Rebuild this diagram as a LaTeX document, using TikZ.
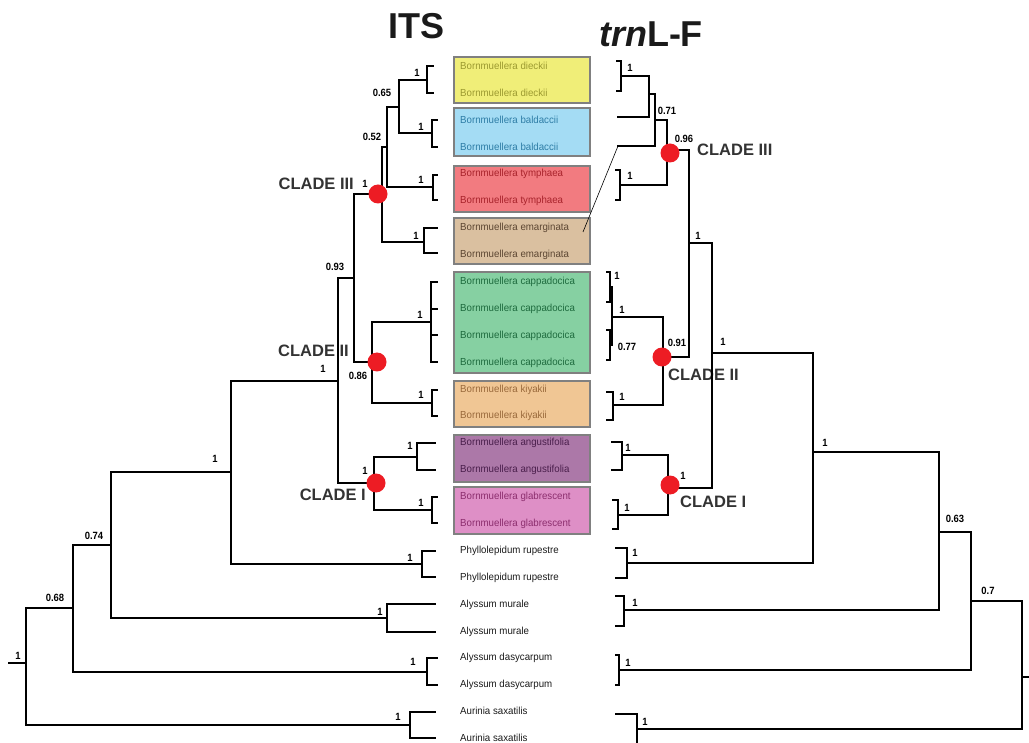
\documentclass[tikz,border=0pt]{standalone}
\usepackage{fontspec}
\setmainfont{Liberation Sans}
\newfontfamily\taxfont[FakeStretch=0.95]{Liberation Sans}
\newfontfamily\supfont[FakeStretch=0.9]{Liberation Sans}

\definecolor{dotred}{HTML}{ED1C24}
\definecolor{cladegray}{HTML}{333333}
\definecolor{boxgray}{HTML}{808080}
\definecolor{dieckfill}{HTML}{F0EE78}
\definecolor{dieckink}{HTML}{9C9A30}
\definecolor{baldfill}{HTML}{A4DCF4}
\definecolor{baldink}{HTML}{2E7DA6}
\definecolor{tymphfill}{HTML}{F27B80}
\definecolor{tymphink}{HTML}{A8232B}
\definecolor{emargfill}{HTML}{DAC0A0}
\definecolor{emargink}{HTML}{5C4632}
\definecolor{cappafill}{HTML}{86D0A2}
\definecolor{cappaink}{HTML}{1E6B3E}
\definecolor{kiyafill}{HTML}{F0C694}
\definecolor{kiyaink}{HTML}{9A6A3C}
\definecolor{angufill}{HTML}{AC78A8}
\definecolor{anguink}{HTML}{4A1F4C}
\definecolor{glabfill}{HTML}{DE8FC6}
\definecolor{glabink}{HTML}{8C2E6E}
\definecolor{outink}{HTML}{1A1A1A}

\tikzset{
  branch/.style={line width=1.4pt, line cap=rect},
  support/.style={font=\supfont\bfseries\fontsize{10.5}{11}\selectfont, inner sep=0pt},
  clade/.style={font=\bfseries\fontsize{16.5}{18}\selectfont, text=cladegray, inner sep=0pt},
  taxon/.style={font=\taxfont\fontsize{10.2}{11}\selectfont, anchor=west, inner sep=0pt, text height=7pt, text depth=2pt},
  taxbox/.style={draw=boxgray, line width=1.5pt},
  cladedot/.style={circle, fill=dotred, minimum size=19pt, inner sep=0pt},
}

\begin{document}
\begin{tikzpicture}[x=1pt, y=-1pt]
\useasboundingbox (0,0) rectangle (1029,743);

% titres
\node (its) [anchor=base, font=\bfseries\fontsize{36}{36}\selectfont, text=outink] at (416,39) {ITS};
\node (trnlf) [anchor=base, font=\bfseries\fontsize{36}{36}\selectfont, text=outink] at (651,47) {\textit{trn}L-F};

% boites des especes
\foreach \ytop/\ybot/\fillcol in {57/103/dieckfill, 108/156/baldfill, 166/212/tymphfill, 218/264/emargfill,
    272/373/cappafill, 381/427/kiyafill, 435/482/angufill, 487/534/glabfill}
  \draw[taxbox, fill=\fillcol] (454,\ytop) rectangle (590,\ybot);

% noms des taxons
\foreach \y/\txt/\col [count=\i] in {
    67/Bornmuellera dieckii/dieckink, 93.9/Bornmuellera dieckii/dieckink,
    120.8/Bornmuellera baldaccii/baldink, 147.6/Bornmuellera baldaccii/baldink,
    174.5/Bornmuellera tymphaea/tymphink, 201.4/Bornmuellera tymphaea/tymphink,
    228.3/Bornmuellera emarginata/emargink, 255.2/Bornmuellera emarginata/emargink,
    282/Bornmuellera cappadocica/cappaink, 308.9/Bornmuellera cappadocica/cappaink,
    335.8/Bornmuellera cappadocica/cappaink, 362.7/Bornmuellera cappadocica/cappaink,
    389.6/Bornmuellera kiyakii/kiyaink, 416.4/Bornmuellera kiyakii/kiyaink,
    443.3/Bornmuellera angustifolia/anguink, 470.2/Bornmuellera angustifolia/anguink,
    497.1/Bornmuellera glabrescent/glabink, 524/Bornmuellera glabrescent/glabink,
    550.8/Phyllolepidum rupestre/outink, 577.7/Phyllolepidum rupestre/outink,
    604.6/Alyssum murale/outink, 631.5/Alyssum murale/outink,
    658.4/Alyssum dasycarpum/outink, 685.2/Alyssum dasycarpum/outink,
    712.1/Aurinia saxatilis/outink, 739/Aurinia saxatilis/outink}
  \node[taxon, text=\col] (tax\i) at (460,\y) {\txt};

% etiquettes des clades
\node[clade, anchor=east] (cl3L) at (354,184) {CLADE III};
\node[clade, anchor=east] (cl2L) at (349,351) {CLADE II};
\node[clade, anchor=east] (cl1L) at (366,495) {CLADE I};
\node[clade, anchor=west] (cl3R) at (697,150) {CLADE III};
\node[clade, anchor=west] (cl2R) at (668,375) {CLADE II};
\node[clade, anchor=west] (cl1R) at (680,502) {CLADE I};

% arbre ITS : crochets terminaux
\foreach \x/\ya/\yb/\xe in {427/66/93/433, 432/120/147/437, 433/175/200/437, 424/228/253/437,
    431/282/309/437, 431/335/362/437, 432/390/416/437, 417/443/470/435, 432/497/523/437,
    422/551/577/435, 387/604/632/435, 427/658/685/437, 410/712/738/435}
  \draw[branch] (\xe,\ya) -| (\x,\yb) -- (\xe,\yb);
\draw[branch] (431,295) -- (431,349);

% arbre ITS : noeuds internes
\draw[branch] (427,80) -| (399,133) -- (432,133);
\draw[branch] (399,107) -| (387,187) -- (433,187);
\draw[branch] (387,147) -| (382,242) -- (424,242);
\draw[branch] (382,194) -| (354,362) -- (372,362);
\draw[branch] (431,322) -| (372,403) -- (432,403);
\draw[branch] (354,278) -| (338,483) -- (374,483);
\draw[branch] (417,457) -| (374,510) -- (432,510);
\draw[branch] (338,381) -| (231,564) -- (422,564);
\draw[branch] (231,472) -| (111,618) -- (387,618);
\draw[branch] (111,545) -| (73,672) -- (427,672);
\draw[branch] (73,608) -| (26,725) -- (410,725);
\draw[branch] (26,663) -- (9,663);

% arbre trnL-F : crochets terminaux
\foreach \x/\ya/\yb/\xs in {621/61/91/617, 620/170/200/616, 610/272/302/607, 610/330/360/607,
    613/392/420/607, 622/442/470/612, 618/500/529/613, 627/548/578/616, 624/596/626/616, 619/655/685/616}
  \draw[branch] (\xs,\ya) -| (\x,\yb) -- (\xs,\yb);
\draw[branch] (616,714) -| (637,743);
\draw[branch] (612,287) -- (612,345);

% arbre trnL-F : noeuds internes
\draw[branch] (621,76) -| (649,117) -- (618,117);
\draw[branch] (649,94) -| (655,146) -- (618,146);
\draw[branch] (655,120) -| (667,185) -- (620,185);
\draw[branch] (667,150) -| (689,357) -- (663,357);
\draw[branch] (612,317) -| (663,405) -- (613,405);
\draw[branch] (689,243) -| (712,488) -- (668,488);
\draw[branch] (622,455) -| (668,515) -- (618,515);
\draw[branch] (712,353) -| (813,563) -- (627,563);
\draw[branch] (813,452) -| (939,610) -- (624,610);
\draw[branch] (939,532) -| (971,670) -- (619,670);
\draw[branch] (971,601) -| (1022,729) -- (637,729);
\draw[branch] (1022,677) -- (1029,677);

% lien emarginata
\draw[line width=0.6pt] (618,146) -- (583,232);

% points des clades
\node[cladedot] (dot3L) at (378,194) {};
\node[cladedot] (dot2L) at (377,362) {};
\node[cladedot] (dot1L) at (376,483) {};
\node[cladedot] (dot3R) at (670,153) {};
\node[cladedot] (dot2R) at (662,357) {};
\node[cladedot] (dot1R) at (670,485) {};

% valeurs de support
\foreach \x/\y/\v [count=\i] in {417/73/1, 382/93/0.65, 421/127/1, 372/137/0.52, 421/180/1, 365/184/1,
    416/236/1, 335/267/0.93, 420/315/1, 358/376/0.86, 421/395/1, 323/369/1, 410/446/1, 365/471/1,
    421/503/1, 215/459/1, 410/558/1, 94/536/0.74, 380/612/1, 55/598/0.68, 413/662/1, 18/656/1, 398/717/1}
  \node[support] (supL\i) at (\x,\y) {\v};
\foreach \x/\y/\v [count=\i] in {630/68/1, 667/111/0.71, 630/176/1, 684/139/0.96, 698/236/1, 617/276/1,
    622/310/1, 627/347/0.77, 677/343/0.91, 622/397/1, 723/342/1, 628/448/1, 683/476/1, 627/508/1,
    825/443/1, 635/553/1, 635/603/1, 955/519/0.63, 628/663/1, 988/591/0.7, 645/722/1}
  \node[support] (supR\i) at (\x,\y) {\v};
\end{tikzpicture}
\end{document}
